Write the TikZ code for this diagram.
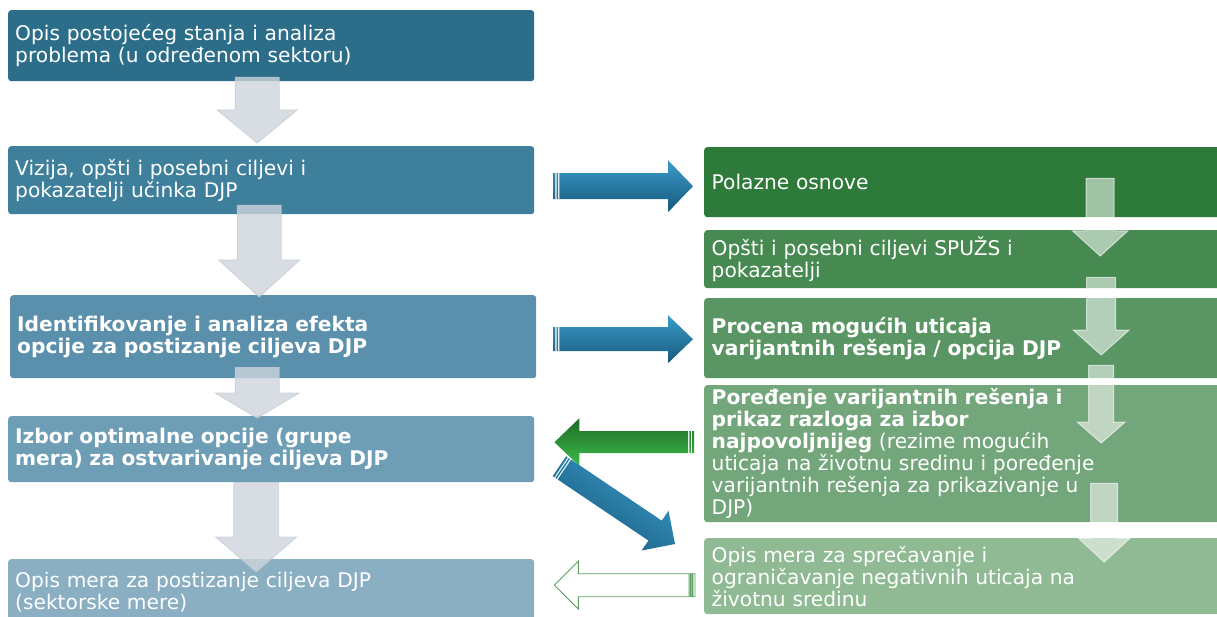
\documentclass[tikz,border=0pt]{standalone}
\usepackage{fontspec}
\setmainfont{DejaVu Sans}
\usetikzlibrary{calc}

\definecolor{bluea}{HTML}{2C6E8A}
\definecolor{blueb}{HTML}{3E7F9B}
\definecolor{bluec}{HTML}{5A90AB}
\definecolor{blued}{HTML}{6E9EB6}
\definecolor{bluee}{HTML}{8AAFC2}
\definecolor{greena}{HTML}{2E7A3A}
\definecolor{greenb}{HTML}{478A51}
\definecolor{greenc}{HTML}{5A9664}
\definecolor{greend}{HTML}{74A67B}
\definecolor{greene}{HTML}{8FBA93}
\definecolor{arrgray}{HTML}{CDD5DC}
\definecolor{arrgrayline}{HTML}{C2CAD2}
\definecolor{arrlight}{HTML}{3A9CCB}
\definecolor{arrdark}{HTML}{17587A}
\definecolor{arrgreendark}{HTML}{1D6B26}
\definecolor{arrgreenlight}{HTML}{3DBB4A}
\definecolor{outgreen}{HTML}{5E9E63}

\newcommand{\blockarrow}[6][]{%
  \path[#1] let \p1=(#2), \p2=(#3), \n1={atan2(\y2-\y1,\x2-\x1)}, \n2={veclen(\x2-\x1,\y2-\y1)} in
    [shift={(\p1)}, rotate=\n1]
    (0,-#4) -- ({\n2-#6},-#4) -- ({\n2-#6},-#5) -- (\n2,0) -- ({\n2-#6},#5) -- ({\n2-#6},#4) -- (0,#4) -- cycle;}
\newcommand{\stripedarrow}[6][]{%
  \path[#1] let \p1=(#2), \p2=(#3), \n1={atan2(\y2-\y1,\x2-\x1)}, \n2={veclen(\x2-\x1,\y2-\y1)} in
    [shift={(\p1)}, rotate=\n1]
    (0,-#4) -- (2,-#4) -- (2,#4) -- (0,#4) -- cycle
    (3.2,-#4) -- (4.7,-#4) -- (4.7,#4) -- (3.2,#4) -- cycle
    (6,-#4) -- ({\n2-#6},-#4) -- ({\n2-#6},-#5) -- (\n2,0) -- ({\n2-#6},#5) -- ({\n2-#6},#4) -- (6,#4) -- cycle;}

\begin{document}
\begin{tikzpicture}[x=1pt, y=-1pt,
  box/.style={rectangle, rounded corners=3pt, anchor=north west, text=white, align=left,
    inner xsep=7pt, inner ysep=0pt, font=\fontsize{20.2}{22}\selectfont},
  left box/.style={box, minimum width=526pt, text width=512pt},
  right box/.style={box, minimum width=530pt, text width=515pt},
  bold box/.style={font=\fontsize{20.2}{22}\selectfont\bfseries},
  down left/.style={fill=arrgray, fill opacity=0.8, draw=arrgrayline, draw opacity=0.8, line width=0.8pt},
  down right/.style={fill=white, fill opacity=0.55, draw=white, draw opacity=0.6, line width=1pt},
  blue arrow/.style={top color=arrlight, bottom color=arrdark},
  green arrow/.style={top color=arrgreendark, bottom color=arrgreenlight},
  hollow arrow/.style={draw=outgreen, fill=white, line width=0.9pt}]
	\useasboundingbox (0,0) rectangle (1217,617);

	\node[left box, fill=bluea, minimum height=71pt] (opis) at (8,10) {Opis postojećeg stanja i analiza\\problema (u određenom sektoru)};
	\node[left box, fill=blueb, minimum height=68pt] (vizija) at (8,146) {Vizija, opšti i posebni ciljevi i\\pokazatelji učinka DJP};
	\node[left box, bold box, fill=bluec, minimum height=83pt] (identif) at (10,295) {Identifikovanje i analiza efekta\\opcije za postizanje ciljeva DJP};
	\node[left box, bold box, fill=blued, minimum height=66pt] (izbor) at (8,416) {Izbor optimalne opcije (grupe\\mera) za ostvarivanje ciljeva DJP};
	\node[left box, fill=bluee, minimum height=66pt] (mere) at (8,559) {Opis mera za postizanje ciljeva DJP\\(sektorske mere)};

	\node[right box, fill=greena, minimum height=70pt] (polazne) at (704,147) {Polazne osnove};
	\node[right box, fill=greenb, minimum height=58pt] (ciljevi) at (704,230) {Opšti i posebni ciljevi SPUŽS i\\pokazatelji};
	\node[right box, bold box, fill=greenc, minimum height=80pt] (procena) at (704,298) {Procena mogućih uticaja\\varijantnih rešenja / opcija DJP};
	\node[right box, fill=greend, minimum height=137pt] (poredjenje) at (704,385) {\bfseries Poređenje varijantnih rešenja i\\prikaz razloga za izbor\\najpovoljnijeg \mdseries(rezime mogućih\\uticaja na životnu sredinu i poređenje\\varijantnih rešenja za prikazivanje u\\DJP)};
	\node[right box, fill=greene, minimum height=76pt] (sprecavanje) at (704,538) {Opis mera za sprečavanje i\\ograničavanje negativnih uticaja na\\životnu sredinu};

	\blockarrow[down left]{$(opis.south)+(-14,-4)$}{$(vizija.north)+(-14,-3)$}{22}{40}{33}
	\blockarrow[down left]{$(vizija.south)+(-12,-9)$}{$(identif.north)+(-14,2)$}{22}{40.5}{37}
	\blockarrow[down left]{$(identif.south)+(-16,-11)$}{$(izbor.north)+(-14,2)$}{22}{42}{25}
	\blockarrow[down left]{$(izbor.south)+(-15,0)$}{$(mere.north)+(-15,13)$}{22.5}{40.5}{35}

	\blockarrow[down right]{$(polazne.south)+(131,-39)$}{$(ciljevi.north)+(131,26)$}{14}{27.5}{25}
	\blockarrow[down right]{$(ciljevi.south)+(132,-11)$}{$(procena.north)+(132,57)$}{14.5}{28}{25}
	\blockarrow[down right]{$(procena.south)+(132,-13)$}{$(poredjenje.north)+(132,58)$}{12.5}{24}{21}
	\blockarrow[down right]{$(poredjenje.south)+(135,-39)$}{$(sprecavanje.north)+(135,24)$}{13.5}{26}{24}

	\stripedarrow[blue arrow]{$(vizija.east)+(19,6)$}{$(polazne.west)+(-11,4)$}{13}{26}{25}
	\stripedarrow[blue arrow]{$(identif.east)+(17,2.5)$}{$(procena.west)+(-11,1)$}{12}{24}{25}
	\stripedarrow[green arrow]{$(poredjenje.west)+(-10,-11.5)$}{$(izbor.east)+(20,-7)$}{11}{24}{25}
	\stripedarrow[blue arrow, shading angle=-34]{$(izbor.east)+(25,17)$}{$(sprecavanje.north west)+(-29,6)$}{12}{24}{24}
	\stripedarrow[hollow arrow]{$(sprecavanje.west)+(-9,9)$}{$(mere.east)+(20,-7)$}{11.5}{24}{24}
\end{tikzpicture}
\end{document}
